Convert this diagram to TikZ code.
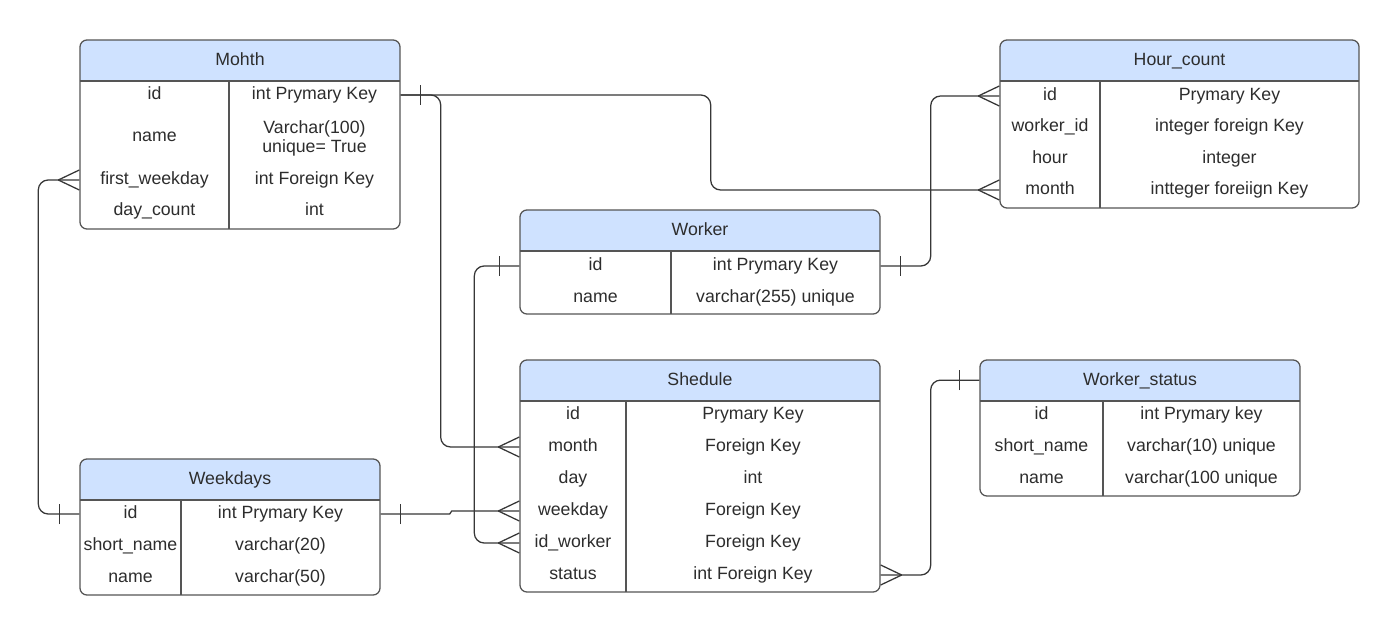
\documentclass[tikz,border=0pt]{standalone}
\usepackage{fontspec}
\setmainfont{Liberation Sans}
\usetikzlibrary{positioning}
\definecolor{headblue}{RGB}{207,226,255}
\definecolor{framegray}{RGB}{85,85,85}
\definecolor{linkgray}{RGB}{55,55,55}
\definecolor{txtgray}{RGB}{45,45,45}

\tikzset{
  tbl/.style={draw=framegray, line width=0.9pt, rounded corners=5pt, inner sep=0pt,
    path picture={
      \fill[headblue, sharp corners] (path picture bounding box.north west) rectangle ([yshift=-1.025cm]path picture bounding box.north east);
      \draw[framegray, line width=0.9pt, sharp corners] ([yshift=-1.025cm]path picture bounding box.north west) -- ([yshift=-1.025cm]path picture bounding box.north east);}},
  tblline/.style={draw=framegray, line width=0.9pt},
  txt/.style={font=\fontsize{12.6}{14}\selectfont, text=txtgray, inner sep=0pt},
  cell/.style={txt, text height=9pt, text depth=2pt},
  ttl/.style={cell, minimum height=1.025cm, anchor=north},
  link/.style={draw=linkgray, line width=0.9pt, rounded corners=7pt},
  crowW/.pic={\draw[link] (-21,0) -- (0,10) (-21,0) -- (0,-10);},
  crowE/.pic={\draw[link] (21,0) -- (0,10) (21,0) -- (0,-10);},
  barW/.pic={\draw[link] (-20,10) -- (-20,-10);},
  barE/.pic={\draw[link] (20,10) -- (20,-10);}
}

\begin{document}
\begin{tikzpicture}[x=0.025cm, y=-0.025cm]
  \path[fill=white, use as bounding box] (0,0) rectangle (1400,635);

  % Mohth
  \node[tbl, minimum width=8cm, minimum height=4.725cm] (mohth) at (240,134.5) {};
  \node[ttl] (mohth-title) at (mohth.north) {Mohth};
  \draw[tblline] (229,81) -- (229,229);
  \node[cell] (mohth-id) at (154.5,95) {id};
  \node[cell] (mohth-id-t) at (314.5,95) {int Prymary Key};
  \node[cell] (mohth-name) at (154.5,137) {name};
  \node[txt, align=center] (mohth-name-t) at (314.5,138.5) {Varchar(100)\\unique= True};
  \node[cell] (mohth-first) at (154.5,180) {first\_weekday};
  \node[cell] (mohth-first-t) at (314.5,180) {int Foreign Key};
  \node[cell] (mohth-days) at (154.5,211) {day\_count};
  \node[cell] (mohth-days-t) at (314.5,211) {int};

  % Hour_count
  \node[tbl, minimum width=8.975cm, minimum height=4.2cm] (hour) at (1179.5,124) {};
  \node[ttl] (hour-title) at (hour.north) {Hour\_count};
  \draw[tblline] (1100,81) -- (1100,208);
  \node[cell] (hour-id) at (1050,96) {id};
  \node[cell] (hour-id-t) at (1229.5,96) {Prymary Key};
  \node[cell] (hour-worker) at (1050,127) {worker\_id};
  \node[cell] (hour-worker-t) at (1229.5,127) {integer foreign Key};
  \node[cell] (hour-hour) at (1050,159) {hour};
  \node[cell] (hour-hour-t) at (1229.5,159) {integer};
  \node[cell] (hour-month) at (1050,190) {month};
  \node[cell] (hour-month-t) at (1229.5,190) {intteger foreiign Key};

  % Worker
  \node[tbl, minimum width=9cm, minimum height=2.6cm] (worker) at (700,262) {};
  \node[ttl] (worker-title) at (worker.north) {Worker};
  \draw[tblline] (671,251) -- (671,314);
  \node[cell] (worker-id) at (595.5,266) {id};
  \node[cell] (worker-id-t) at (775.5,266) {int Prymary Key};
  \node[cell] (worker-name) at (595.5,298) {name};
  \node[cell] (worker-name-t) at (775.5,298) {varchar(255) unique};

  % Shedule
  \node[tbl, minimum width=9cm, minimum height=5.8cm] (sched) at (700,476) {};
  \node[ttl] (sched-title) at (sched.north) {Shedule};
  \draw[tblline] (626,401) -- (626,592);
  \node[cell] (sched-id) at (573,415) {id};
  \node[cell] (sched-id-t) at (753,415) {Prymary Key};
  \node[cell] (sched-month) at (573,447) {month};
  \node[cell] (sched-month-t) at (753,447) {Foreign Key};
  \node[cell] (sched-day) at (573,479) {day};
  \node[cell] (sched-day-t) at (753,479) {int};
  \node[cell] (sched-weekday) at (573,511) {weekday};
  \node[cell] (sched-weekday-t) at (753,511) {Foreign Key};
  \node[cell] (sched-idw) at (573,543) {id\_worker};
  \node[cell] (sched-idw-t) at (753,543) {Foreign Key};
  \node[cell] (sched-status) at (573,575) {status};
  \node[cell] (sched-status-t) at (753,575) {int Foreign Key};

  % Worker_status
  \node[tbl, minimum width=8cm, minimum height=3.4cm] (wstat) at (1140,428) {};
  \node[ttl] (wstat-title) at (wstat.north) {Worker\_status};
  \draw[tblline] (1103,401) -- (1103,496);
  \node[cell] (wstat-id) at (1041.5,415) {id};
  \node[cell] (wstat-id-t) at (1201.5,415) {int Prymary key};
  \node[cell] (wstat-short) at (1041.5,447) {short\_name};
  \node[cell] (wstat-short-t) at (1201.5,447) {varchar(10) unique};
  \node[cell] (wstat-name) at (1041.5,479) {name};
  \node[cell] (wstat-name-t) at (1201.5,479) {varchar(100 unique};

  % Weekdays
  \node[tbl, minimum width=7.5cm, minimum height=3.4cm] (week) at (230,527) {};
  \node[ttl] (week-title) at (week.north) {Weekdays};
  \draw[tblline] (181,500) -- (181,595);
  \node[cell] (week-id) at (130.5,514) {id};
  \node[cell] (week-id-t) at (280.5,514) {int Prymary Key};
  \node[cell] (week-short) at (130.5,546) {short\_name};
  \node[cell] (week-short-t) at (280.5,546) {varchar(20)};
  \node[cell] (week-name) at (130.5,578) {name};
  \node[cell] (week-name-t) at (280.5,578) {varchar(50)};

  % Relations
  \draw[link] (mohth.east |- mohth-id) -- ++(310,0) |- (hour.west |- hour-month);
  \draw[link] (mohth.east |- mohth-id) -- ++(40,0) |- (sched.west |- sched-month);
  \draw[link] (mohth.west |- mohth-first) -- ++(-41,0) |- (week.west |- week-id);
  \draw[link, sharp corners] (week.east |- week-id) -- ++(69,0) -- ++(2,-3) -- (sched.west |- sched-weekday);
  \draw[link] (worker.west |- worker-id) -- ++(-45,0) |- (sched.west |- sched-idw);
  \draw[link] (worker.east |- worker-id) -- ++(50,0) |- (hour.west |- hour-id);
  \draw[link] (sched.east |- sched-status) -- ++(50,0) |- (wstat.west |- wstat-title);

  % Ends
  \path (mohth.east |- mohth-id) pic {barE};
  \path (hour.west |- hour-month) pic {crowW};
  \path (sched.west |- sched-month) pic {crowW};
  \path (mohth.west |- mohth-first) pic {crowW};
  \path (week.west |- week-id) pic {barW};
  \path (week.east |- week-id) pic {barE};
  \path (sched.west |- sched-weekday) pic {crowW};
  \path (worker.west |- worker-id) pic {barW};
  \path (sched.west |- sched-idw) pic {crowW};
  \path (worker.east |- worker-id) pic {barE};
  \path (hour.west |- hour-id) pic {crowW};
  \path (sched.east |- sched-status) pic {crowE};
  \path (wstat.west |- wstat-title) pic {barW};
\end{tikzpicture}
\end{document}
